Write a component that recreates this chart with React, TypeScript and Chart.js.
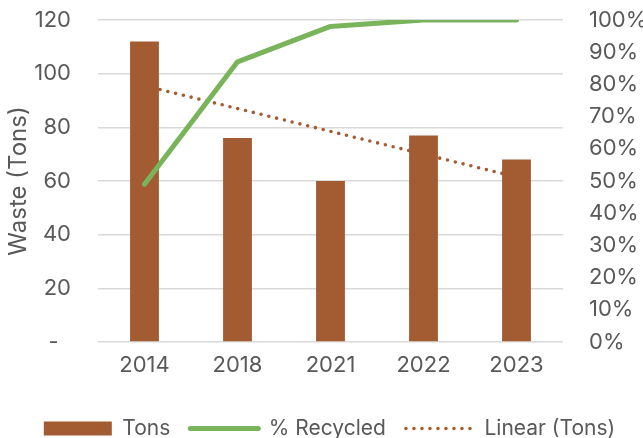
import React, { useEffect, useRef } from "react";
import { Chart, registerables } from "chart.js";

Chart.register(...registerables);

const categories = ["2014", "2018", "2021", "2022", "2023"];
const tons = [112, 76, 60, 77, 68];
const recycled = [0.49, 0.87, 0.98, 1.0, 1.0];
const linearTons = [95.5, 87, 78.5, 70, 61.5];
const leftTicks = [0, 20, 40, 60, 80, 100, 120];

const BROWN = "#A35B32";
const GREEN = "#79B45A";
const TEXT = "#595959";
const GRID = "#D9D9D9";
const FONT = "Inter, 'Noto Sans', sans-serif";

const shiftLegend = {
  id: "shiftLegend",
  afterLayout(chart: any) {
    if (chart.legend) {
      chart.legend.left += 8;
      chart.legend.right += 8;
    }
  },
};

export default function App() {
  const ref = useRef<HTMLCanvasElement | null>(null);

  useEffect(() => {
    document.body.style.margin = "0";
    const canvas = ref.current;
    if (!canvas) return;
    const chart = new Chart(canvas, {
      type: "bar",
      data: {
        labels: categories,
        datasets: [
          {
            type: "bar",
            label: "Tons",
            data: tons,
            backgroundColor: BROWN,
            borderWidth: 0,
            barPercentage: 0.31,
            categoryPercentage: 1,
            yAxisID: "y",
            order: 1,
          },
          {
            type: "line",
            label: "% Recycled",
            data: recycled,
            borderColor: GREEN,
            backgroundColor: GREEN,
            borderWidth: 5,
            borderCapStyle: "round",
            borderJoinStyle: "round",
            pointRadius: 0,
            tension: 0,
            yAxisID: "y1",
            order: 0,
          },
          {
            type: "line",
            label: "Linear (Tons)",
            data: linearTons,
            borderColor: BROWN,
            backgroundColor: BROWN,
            borderWidth: 3.6,
            borderDash: [0, 8],
            borderCapStyle: "round",
            pointRadius: 0,
            tension: 0,
            yAxisID: "y",
            order: 2,
          },
        ],
      } as any,
      options: {
        animation: false,
        responsive: true,
        maintainAspectRatio: false,
        layout: { padding: { left: 0, right: 0, top: 20, bottom: -11 } },
        scales: {
          x: {
            grid: { display: false, drawTicks: false },
            border: { display: false },
            ticks: {
              color: TEXT,
              font: { family: FONT, size: 22 },
              padding: 10,
            },
            afterFit: (axis: any) => {
              axis.height = 56;
              axis.paddingLeft = 0;
              axis.paddingRight = 0;
            },
          },
          y: {
            position: "left",
            min: 0,
            max: 120,
            afterBuildTicks: (axis: any) => {
              axis.ticks = leftTicks.map((v) => ({ value: v }));
            },
            grid: { color: GRID, lineWidth: 1.5, drawTicks: false },
            border: { display: false },
            ticks: {
              color: TEXT,
              font: { family: FONT, size: 22 },
              padding: 27,
              callback: (v: any) => (Number(v) === 0 ? "-  " : String(v)),
            },
            title: {
              display: true,
              text: "Waste (Tons)",
              color: TEXT,
              font: { family: FONT, size: 24 },
            },
            afterFit: (axis: any) => {
              axis.width = 98;
              axis.paddingTop = 0;
              axis.paddingBottom = 0;
            },
          },
          y1: {
            position: "right",
            min: 0,
            max: 1,
            grid: { display: false, drawTicks: false },
            border: { display: false },
            ticks: {
              stepSize: 0.1,
              color: TEXT,
              font: { family: FONT, size: 22 },
              padding: 26,
              callback: (v: any) => Math.round(Number(v) * 100) + "%",
            },
            afterFit: (axis: any) => {
              axis.width = 80;
              axis.paddingTop = 0;
              axis.paddingBottom = 0;
            },
          },
        },
        plugins: {
          tooltip: { enabled: false },
          legend: {
            position: "bottom",
            labels: {
              color: TEXT,
              font: { family: FONT, size: 21 },
              usePointStyle: true,
              pointStyleWidth: 68,
              boxHeight: 14,
              padding: 20,
              sort: (a: any, b: any) => a.datasetIndex - b.datasetIndex,
              generateLabels: (c: any) => {
                const items = Chart.defaults.plugins.legend.labels.generateLabels(c);
                return items.map((it: any) => {
                  const ds = c.data.datasets[it.datasetIndex];
                  if (ds.type === "bar") {
                    return { ...it, pointStyle: "rect", lineWidth: 0 };
                  }
                  return {
                    ...it,
                    pointStyle: "line",
                    strokeStyle: ds.borderColor,
                    lineWidth: ds.borderWidth,
                    lineDash: ds.borderDash || [],
                    lineCap: ds.borderCapStyle,
                  };
                });
              },
            },
          },
        },
      } as any,
      plugins: [shiftLegend],
    });
    return () => chart.destroy();
  }, []);

  return (
    <div style={{ width: 643, height: 438, position: "relative" }}>
      <canvas ref={ref} />
    </div>
  );
}
